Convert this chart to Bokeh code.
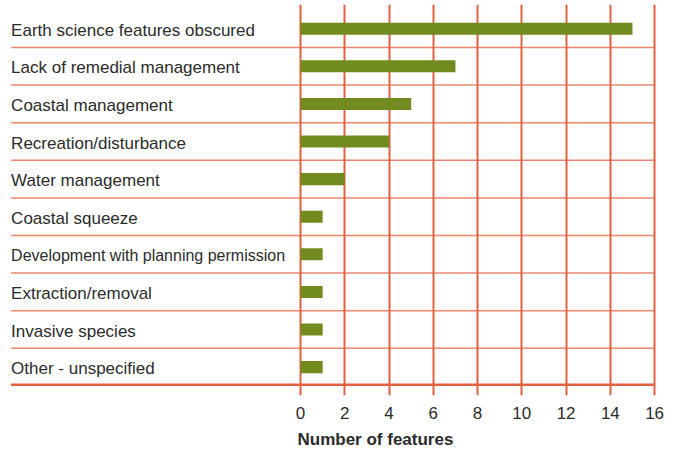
from bokeh.plotting import figure
from bokeh.models import ColumnDataSource, FixedTicker, Title, Range1d
from bokeh.core.properties import value
from bokeh.embed import file_html
from bokeh.resources import INLINE

categories = [
    "Earth science features obscured",
    "Lack of remedial management",
    "Coastal management",
    "Recreation/disturbance",
    "Water management",
    "Coastal squeeze",
    "Development with planning permission",
    "Extraction/removal",
    "Invasive species",
    "Other - unspecified",
]
counts = [15, 7, 5, 4, 2, 1, 1, 1, 1, 1]
x_ticks = [0, 2, 4, 6, 8, 10, 12, 14, 16]
x_title = "Number of features"

FONT = "Liberation Sans"
GRID = "#E1603F"
BAR = "#728B1E"
TEXT = "#2b2b2b"

n = len(categories)
ys = [n - 0.5 - i for i in range(n)]
label_x = -13.08
x_max = x_ticks[-1]
# longest label is squeezed slightly so it stays clear of the zero line
label_sizes = ["16px" if len(c) > 34 else "17px" for c in categories]

p = figure(width=676, height=454, output_backend="svg", toolbar_location=None,
           x_range=Range1d(-13.56, 16.99), y_range=Range1d(-0.255, 10.144),
           min_border_left=0, min_border_right=0, min_border_top=4, min_border_bottom=59)
p.outline_line_color = None
p.background_fill_color = "white"
p.border_fill_color = "white"

p.yaxis.visible = False
p.ygrid.visible = False

ax = p.xaxis[0]
ax.ticker = FixedTicker(ticks=x_ticks)
ax.axis_line_color = None
ax.major_tick_line_color = None
ax.minor_tick_line_color = None
ax.major_tick_out = 0
ax.major_tick_in = 0
ax.major_label_standoff = 11
ax.major_label_text_font = FONT
ax.major_label_text_font_size = "17px"
ax.major_label_text_color = TEXT

p.xgrid.ticker = FixedTicker(ticks=x_ticks)
p.xgrid.grid_line_color = GRID
p.xgrid.grid_line_width = 2

sep_y = list(range(1, n))
p.segment(x0=[label_x] * len(sep_y), x1=[x_max] * len(sep_y), y0=sep_y, y1=sep_y,
          line_color=GRID, line_width=1.5, line_alpha=0.75)
p.segment(x0=[label_x], x1=[x_max], y0=[0.03], y1=[0.03], line_color=GRID, line_width=2.5)

src = ColumnDataSource(dict(y=ys, right=counts, cat=categories, lx=[label_x] * n, fs=label_sizes))
p.hbar(y="y", left=0, right="right", height=0.32, source=src, fill_color=BAR, line_color=None)

p.text(x="lx", y="y", text="cat", source=src, text_font=value(FONT), text_font_size="fs",
       text_color=TEXT, text_baseline="middle", text_align="left", y_offset=1.5)

t = Title(text=x_title, align="left", offset=297, standoff=12,
          text_font=FONT, text_font_size="17px", text_font_style="bold", text_color=TEXT)
p.add_layout(t, "below")

open("out.html", "w").write(file_html(p, INLINE))
